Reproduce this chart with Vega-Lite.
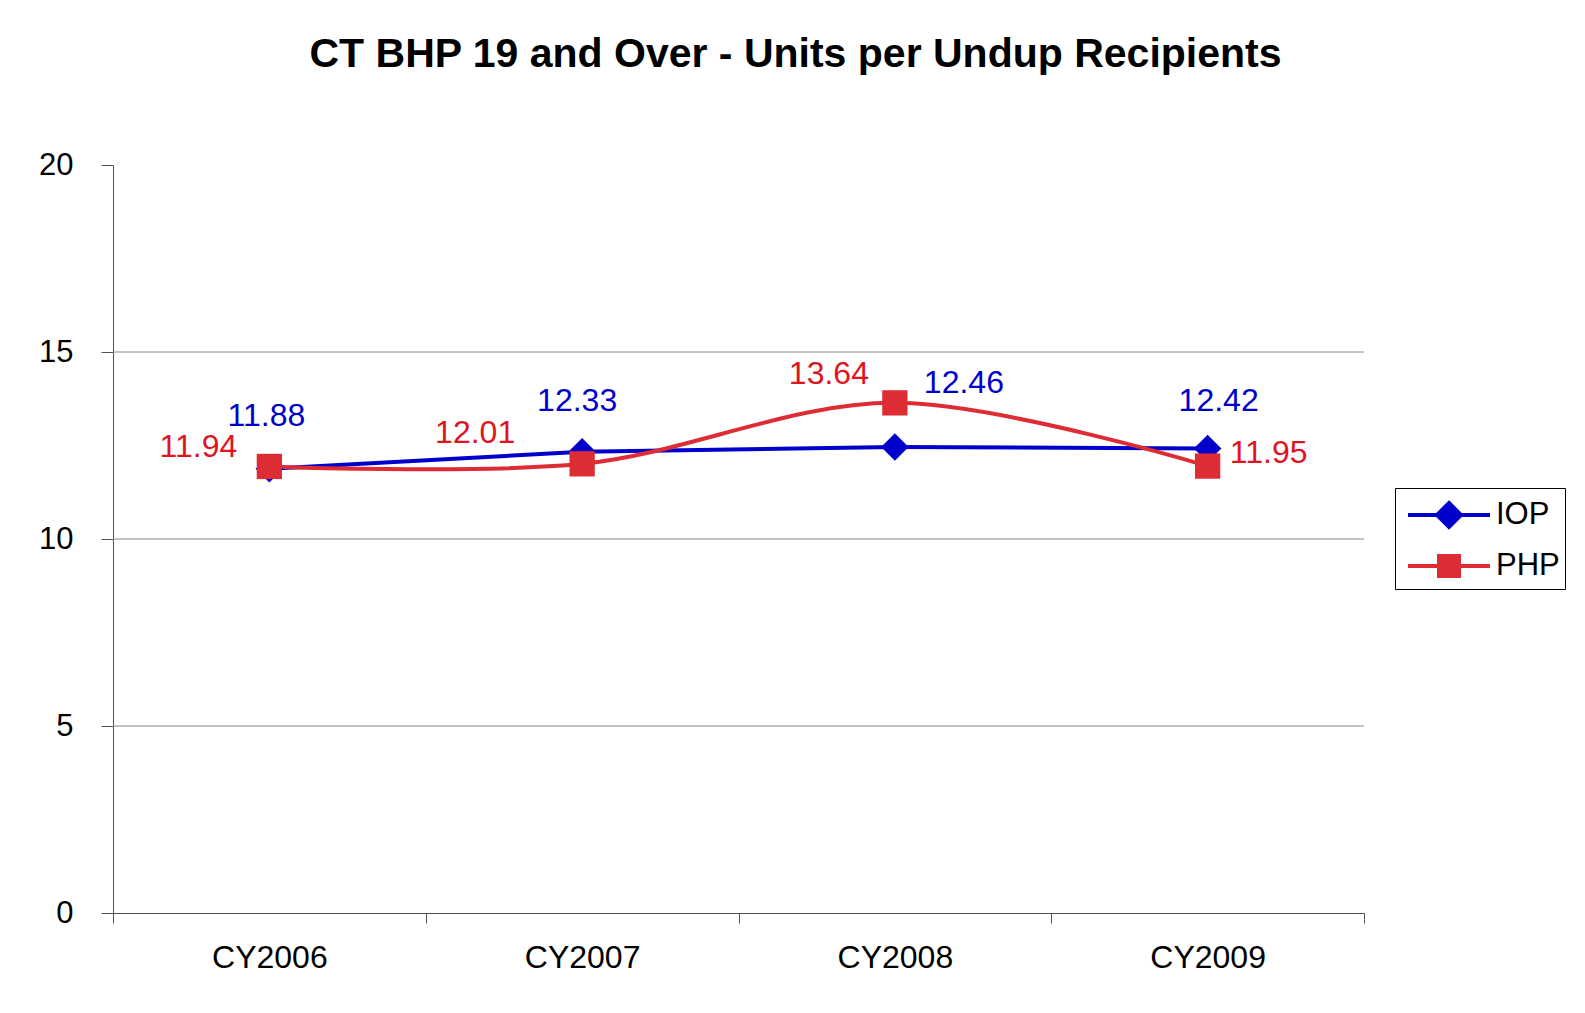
{
  "$schema": "https://vega.github.io/schema/vega-lite/v6.json",
  "autosize": {"type": "none"},
  "padding": {"left": 113, "top": 165, "right": 221, "bottom": 100},
  "width": 1251,
  "height": 748,
  "background": "white",
  "config": {
    "font": "Liberation Sans",
    "view": {"stroke": null}
  },
  "title": {
    "text": "CT BHP 19 and Over - Units per Undup Recipients",
    "font": "Liberation Sans",
    "fontSize": 41,
    "fontWeight": "bold",
    "color": "black",
    "anchor": "middle",
    "dx": 57,
    "offset": 41,
    "baseline": "alphabetic"
  },
  "data": {
    "values": [
      {"year": "CY2006", "series": "IOP", "value": 11.88},
      {"year": "CY2007", "series": "IOP", "value": 12.33},
      {"year": "CY2008", "series": "IOP", "value": 12.46},
      {"year": "CY2009", "series": "IOP", "value": 12.42},
      {"year": "CY2006", "series": "PHP", "value": 11.94},
      {"year": "CY2007", "series": "PHP", "value": 12.01},
      {"year": "CY2008", "series": "PHP", "value": 13.64},
      {"year": "CY2009", "series": "PHP", "value": 11.95}
    ]
  },
  "encoding": {
    "x": {
      "field": "year", "type": "nominal",
      "scale": {"paddingInner": 0, "paddingOuter": 0},
      "axis": {
        "title": null, "labelAngle": 0, "labelFontSize": 32, "labelColor": "black",
        "labelFont": "Liberation Sans", "labelPadding": 19,
        "tickBand": "extent", "tickSize": 10, "tickColor": "#505050", "domainColor": "#505050",
        "tickWidth": 1, "domainWidth": 1, "grid": false
      }
    },
    "y": {
      "field": "value", "type": "quantitative",
      "scale": {"domain": [0, 20], "nice": false, "zero": true},
      "axis": {
        "title": null, "values": [0, 5, 10, 15, 20], "labelFontSize": 31, "labelColor": "black",
        "labelFont": "Liberation Sans", "labelPadding": 28, "tickSize": 12,
        "tickColor": "#505050", "domainColor": "#505050", "grid": false
      }
    }
  },
  "layer": [
    {
      "data": {"values": [{"g": 5}, {"g": 10}, {"g": 15}]},
      "mark": {"type": "rule", "color": "#8a8a8a", "strokeWidth": 1},
      "encoding": {"y": {"field": "g", "type": "quantitative"}, "x": null}
    },
    {
      "transform": [{"filter": "datum.series === 'IOP'"}],
      "mark": {"type": "line", "strokeWidth": 4},
      "encoding": {
        "color": {
          "field": "series", "type": "nominal",
          "scale": {"domain": ["IOP", "PHP"], "range": ["#0000CC", "#DD2C34"]},
          "legend": {
            "title": null, "orient": "none", "legendX": 1282, "legendY": 323,
            "strokeColor": "black", "padding": 5,
            "labelFontSize": 31, "labelFont": "Liberation Sans", "labelColor": "black",
            "symbolSize": 1600, "symbolStrokeWidth": 4, "symbolOffset": 27, "labelOffset": 25,
            "rowPadding": 9,
            "encode": {
              "symbols": {
                "update": {
                  "shape": {"signal": "datum.value === 'IOP' ? 'M-2.05,0H2.05M0,-0.6L0.6,0L0,0.6L-0.6,0Z' : 'M-2.05,0H2.05M-0.5,-0.5H0.5V0.5H-0.5Z'"},
                  "fill": {"scale": "color", "field": "value"},
                  "stroke": {"scale": "color", "field": "value"}
                }
              }
            }
          }
        }
      }
    },
    {
      "transform": [{"filter": "datum.series === 'PHP'"}],
      "mark": {"type": "line", "strokeWidth": 4, "color": "#DD2C34", "interpolate": "catmull-rom"},
      "encoding": {}
    },
    {
      "transform": [{"filter": "datum.series === 'IOP'"}],
      "mark": {"type": "point", "shape": "diamond", "filled": true, "size": 760, "color": "#0000CC", "opacity": 1},
      "encoding": {}
    },
    {
      "transform": [{"filter": "datum.series === 'PHP'"}],
      "mark": {"type": "point", "shape": "square", "filled": true, "size": 640, "color": "#DD2C34", "opacity": 1},
      "encoding": {}
    },
    {
      "transform": [{"filter": "datum.series === 'IOP' && datum.year === 'CY2006'"}],
      "mark": {"type": "text", "fontSize": 32, "font": "Liberation Sans", "color": "#0000CC", "baseline": "middle", "align": "center", "dx": -3, "dy": -53},
      "encoding": {"text": {"field": "value", "format": ".2f"}}
    },
    {
      "transform": [{"filter": "datum.series === 'IOP' && datum.year === 'CY2007'"}],
      "mark": {"type": "text", "fontSize": 32, "font": "Liberation Sans", "color": "#0000CC", "baseline": "middle", "align": "center", "dx": -5, "dy": -51},
      "encoding": {"text": {"field": "value", "format": ".2f"}}
    },
    {
      "transform": [{"filter": "datum.series === 'IOP' && datum.year === 'CY2008'"}],
      "mark": {"type": "text", "fontSize": 32, "font": "Liberation Sans", "color": "#0000CC", "baseline": "middle", "align": "center", "dx": 69, "dy": -64},
      "encoding": {"text": {"field": "value", "format": ".2f"}}
    },
    {
      "transform": [{"filter": "datum.series === 'IOP' && datum.year === 'CY2009'"}],
      "mark": {"type": "text", "fontSize": 32, "font": "Liberation Sans", "color": "#0000CC", "baseline": "middle", "align": "center", "dx": 11, "dy": -47},
      "encoding": {"text": {"field": "value", "format": ".2f"}}
    },
    {
      "transform": [{"filter": "datum.series === 'PHP' && datum.year === 'CY2006'"}],
      "mark": {"type": "text", "fontSize": 32, "font": "Liberation Sans", "color": "#E0141E", "baseline": "middle", "align": "center", "dx": -71, "dy": -19},
      "encoding": {"text": {"field": "value", "format": ".2f"}}
    },
    {
      "transform": [{"filter": "datum.series === 'PHP' && datum.year === 'CY2007'"}],
      "mark": {"type": "text", "fontSize": 32, "font": "Liberation Sans", "color": "#E0141E", "baseline": "middle", "align": "center", "dx": -107, "dy": -31},
      "encoding": {"text": {"field": "value", "format": ".2f"}}
    },
    {
      "transform": [{"filter": "datum.series === 'PHP' && datum.year === 'CY2008'"}],
      "mark": {"type": "text", "fontSize": 32, "font": "Liberation Sans", "color": "#E0141E", "baseline": "middle", "align": "center", "dx": -66, "dy": -29},
      "encoding": {"text": {"field": "value", "format": ".2f"}}
    },
    {
      "transform": [{"filter": "datum.series === 'PHP' && datum.year === 'CY2009'"}],
      "mark": {"type": "text", "fontSize": 32, "font": "Liberation Sans", "color": "#E0141E", "baseline": "middle", "align": "center", "dx": 61, "dy": -13},
      "encoding": {"text": {"field": "value", "format": ".2f"}}
    }
  ]
}
